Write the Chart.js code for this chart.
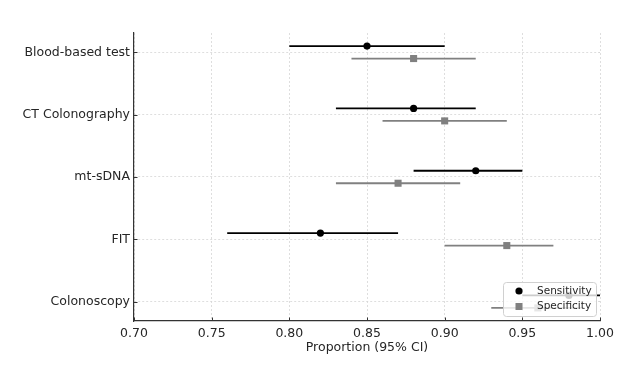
<!DOCTYPE html>
<html>
<head>
<meta charset="utf-8">
<script src="https://cdn.jsdelivr.net/npm/chart.js@4/dist/chart.umd.min.js"></script>
<style>
  html, body { margin: 0; padding: 0; background: #ffffff; }
  #wrap { width: 627px; height: 371px; }
</style>
</head>
<body>
<div id="wrap"><canvas id="c" width="627" height="371"></canvas></div>
<script>
// ---- data ----
const categories = ['Colonoscopy', 'FIT', 'mt-sDNA', 'CT Colonography', 'Blood-based test'];
const sensValues = [0.98, 0.82, 0.92, 0.88, 0.85];
const sensLower  = [0.95, 0.76, 0.88, 0.83, 0.80];
const sensUpper  = [1.00, 0.87, 0.95, 0.92, 0.90];
const specValues = [0.96, 0.94, 0.87, 0.90, 0.88];
const specLower  = [0.93, 0.90, 0.83, 0.86, 0.84];
const specUpper  = [0.99, 0.97, 0.91, 0.94, 0.92];
const xTickValues = [0.70, 0.75, 0.80, 0.85, 0.90, 0.95, 1.00];
const seriesNames = ['Sensitivity', 'Specificity'];
const xTitle = 'Proportion (95% CI)';

// ---- styles ----
const SENS_COLOR = '#000000';
const SPEC_COLOR = '#808080';
const OFFSET = 0.1;
const FONT = 'DejaVu Sans';
const TEXT_COLOR = '#262626';

const datasets = [];
// points (drawn on top)
datasets.push({
  type: 'scatter', label: seriesNames[0], order: 0,
  data: categories.map((c, i) => ({ x: sensValues[i], y: i + OFFSET })),
  pointStyle: 'circle', pointRadius: 3.6, pointHoverRadius: 3.6,
  backgroundColor: SENS_COLOR, borderColor: SENS_COLOR, borderWidth: 0
});
datasets.push({
  type: 'scatter', label: seriesNames[1], order: 0,
  data: categories.map((c, i) => ({ x: specValues[i], y: i - OFFSET })),
  pointStyle: 'rect', pointRadius: 5, pointHoverRadius: 5,
  backgroundColor: SPEC_COLOR, borderColor: SPEC_COLOR, borderWidth: 0
});
// error bars as line segments
categories.forEach((c, i) => {
  datasets.push({
    type: 'line', label: 'sensCI', order: 1,
    data: [{ x: sensLower[i], y: i + OFFSET }, { x: sensUpper[i], y: i + OFFSET }],
    borderColor: SENS_COLOR, borderWidth: 1.8, pointRadius: 0, fill: false
  });
  datasets.push({
    type: 'line', label: 'specCI', order: 1,
    data: [{ x: specLower[i], y: i - OFFSET }, { x: specUpper[i], y: i - OFFSET }],
    borderColor: SPEC_COLOR, borderWidth: 1.8, pointRadius: 0, fill: false
  });
});

const inwardTicks = {
  id: 'inwardTicks',
  afterDatasetsDraw(chart) {
    const { ctx, scales: { x, y }, chartArea: ca } = chart;
    ctx.save();
    ctx.strokeStyle = '#333333';
    ctx.lineWidth = 1;
    ctx.beginPath();
    y.ticks.forEach(t => {
      const py = Math.round(y.getPixelForValue(t.value)) + 0.5;
      ctx.moveTo(ca.left, py); ctx.lineTo(ca.left + 3.5, py);
    });
    x.ticks.forEach(t => {
      const px = Math.round(x.getPixelForValue(t.value)) + 0.5;
      ctx.moveTo(px, ca.bottom); ctx.lineTo(px, ca.bottom - 3.5);
    });
    ctx.stroke();
    ctx.restore();
  }
};

const boxLegend = {
  id: 'boxLegend',
  afterDraw(chart) {
    const { ctx, chartArea: ca } = chart;
    const w = 93, h = 34;
    const x0 = ca.right - 4 - w, y0 = ca.bottom - 5 - h;
    ctx.save();
    ctx.beginPath();
    if (ctx.roundRect) ctx.roundRect(x0 + 0.5, y0 + 0.5, w, h, 3); else ctx.rect(x0 + 0.5, y0 + 0.5, w, h);
    ctx.fillStyle = 'rgba(255,255,255,0.8)';
    ctx.fill();
    ctx.strokeStyle = '#d0d0d0';
    ctx.lineWidth = 1;
    ctx.stroke();
    const mx = x0 + 16, tx = x0 + 34;
    const r1 = y0 + 9, r2 = y0 + 24.5;
    ctx.fillStyle = SENS_COLOR;
    ctx.beginPath(); ctx.arc(mx, r1, 3.6, 0, Math.PI * 2); ctx.fill();
    ctx.fillStyle = SPEC_COLOR;
    ctx.fillRect(mx - 3.5, r2 - 3.5, 7, 7);
    ctx.fillStyle = TEXT_COLOR;
    ctx.font = '10.5px "' + FONT + '"';
    ctx.textBaseline = 'middle';
    ctx.textAlign = 'left';
    ctx.fillText(seriesNames[0], tx, r1);
    ctx.fillText(seriesNames[1], tx, r2);
    ctx.restore();
  }
};

Chart.defaults.font.family = FONT;
Chart.defaults.color = TEXT_COLOR;

new Chart(document.getElementById('c'), {
  data: { datasets },
  options: {
    responsive: false,
    animation: false,
    devicePixelRatio: 1,
    layout: { padding: { left: 0, right: 27, top: 33, bottom: 0 } },
    plugins: { legend: { display: false }, tooltip: { enabled: false } },
    scales: {
      x: {
        type: 'linear', min: 0.70, max: 1.00,
        afterBuildTicks: s => { s.ticks = xTickValues.map(v => ({ value: v })); },
        afterFit: s => { s.height = 50; },
        ticks: { callback: v => Number(v).toFixed(2), font: { size: 12.5 }, color: TEXT_COLOR, padding: 5, maxRotation: 0, autoSkip: false },
        grid: { color: '#d6d6d6', lineWidth: 0.8, drawTicks: false, tickLength: 0 },
        border: { display: true, color: '#333333', width: 1.2, dash: [2, 2] },
        title: { display: true, text: xTitle, font: { size: 12.5 }, color: TEXT_COLOR, padding: { top: 0, bottom: 16 } }
      },
      y: {
        type: 'linear', min: -0.31, max: 4.31,
        afterBuildTicks: s => { s.ticks = categories.map((c, i) => ({ value: i })); },
        afterFit: s => { s.width = 134; },
        ticks: { callback: v => categories[v], font: { size: 12.5 }, color: TEXT_COLOR, padding: 4, autoSkip: false },
        grid: { color: '#d6d6d6', lineWidth: 0.8, drawTicks: false, tickLength: 0 },
        border: { display: true, color: '#333333', width: 1.2, dash: [2, 2] }
      }
    }
  },
  plugins: [inwardTicks, boxLegend]
});
</script>
</body>
</html>
